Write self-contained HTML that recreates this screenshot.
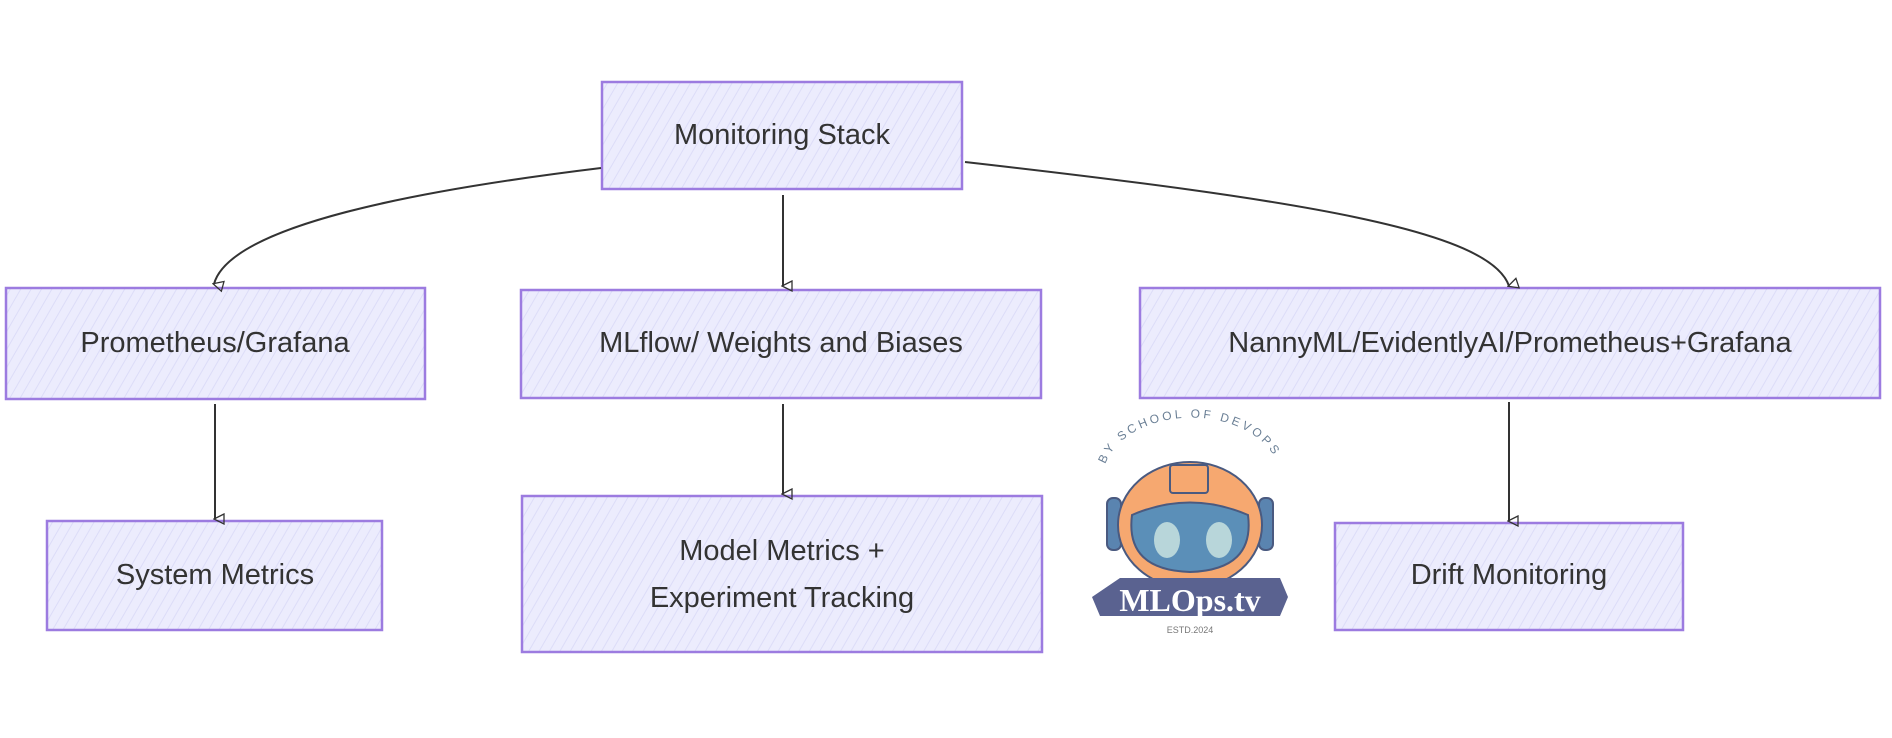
<!DOCTYPE html>
<html><head><meta charset="utf-8"><style>
html,body{margin:0;padding:0;background:#fff;}
svg{display:block}
text{font-family:"Liberation Sans",sans-serif;fill:#333;}
</style></head><body>
<svg width="1892" height="738" viewBox="0 0 1892 738" xmlns="http://www.w3.org/2000/svg">
<defs>
<pattern id="h" width="9" height="9" patternUnits="userSpaceOnUse" patternTransform="rotate(30)">
<rect width="9" height="9" fill="#ececfd"/>
<line x1="0" y1="0" x2="0" y2="9" stroke="#dcdcf8" stroke-width="2"/>
</pattern>
<marker id="a" markerWidth="12" markerHeight="12" refX="6" refY="10" orient="auto" markerUnits="userSpaceOnUse">
<path d="M1,1 L6,11 L11,1 Z" fill="none" stroke="#333" stroke-width="1.3"/>
</marker>
</defs>
<g fill="url(#h)" stroke="#9c7be0" stroke-width="2.5">
<rect x="602" y="82" width="360" height="107"/>
<rect x="6" y="288" width="419" height="111"/>
<rect x="521" y="290" width="520" height="108"/>
<rect x="1140" y="288" width="740" height="110"/>
<rect x="47" y="521" width="335" height="109"/>
<rect x="522" y="496" width="520" height="156"/>
<rect x="1335" y="523" width="348" height="107"/>
</g>
<g fill="none" stroke="#333" stroke-width="2">
<path d="M601,168 C420,190 230,225 214,284" marker-end="url(#a)"/>
<path d="M783,195 L783,286" marker-end="url(#a)"/>
<path d="M965,162 C1300,200 1490,230 1509,286" marker-end="url(#a)"/>
<path d="M215,404 L215,519" marker-end="url(#a)"/>
<path d="M783,404 L783,494" marker-end="url(#a)"/>
<path d="M1509,402 L1509,521" marker-end="url(#a)"/>
</g>
<g font-size="29" text-anchor="middle">
<text x="782" y="144">Monitoring Stack</text>
<text x="215" y="352">Prometheus/Grafana</text>
<text x="781" y="352">MLflow/ Weights and Biases</text>
<text x="1510" y="352">NannyML/EvidentlyAI/Prometheus+Grafana</text>
<text x="215" y="584">System Metrics</text>
<text x="782" y="560">Model Metrics +</text>
<text x="782" y="607">Experiment Tracking</text>
<text x="1509" y="584">Drift Monitoring</text>
</g>
<g>
<path id="arc" d="M1103,478 A88,60 0 0 1 1280,478" fill="none"/>
<text font-size="12" letter-spacing="3" style="fill:#6a7f95"><textPath href="#arc" startOffset="6%">BY SCHOOL OF DEVOPS</textPath></text>
<rect x="1107" y="498" width="14" height="52" rx="6" fill="#5a84b0" stroke="#4a5a80" stroke-width="2"/>
<rect x="1259" y="498" width="14" height="52" rx="6" fill="#5a84b0" stroke="#4a5a80" stroke-width="2"/>
<ellipse cx="1190" cy="525" rx="72" ry="63" fill="#f6a870" stroke="#4a5a80" stroke-width="2"/>
<rect x="1170" y="465" width="38" height="28" rx="3" fill="#f6a870" stroke="#4a5a80" stroke-width="2"/>
<path d="M1132,515 Q1190,490 1248,515 Q1255,570 1190,572 Q1125,570 1132,515 Z" fill="#5b8fb8" stroke="#4a5a80" stroke-width="2"/>
<ellipse cx="1167" cy="540" rx="13" ry="18" fill="#b8d6da"/>
<ellipse cx="1219" cy="540" rx="13" ry="18" fill="#b8d6da"/>
<path d="M1120,578 L1280,578 L1288,597 L1280,616 L1100,616 L1092,597 Z" fill="#5a6290"/>
<text x="1190" y="611" font-size="32" font-weight="bold" text-anchor="middle" style="fill:#fff;font-family:'Liberation Serif',serif">MLOps.tv</text>
<text x="1190" y="633" font-size="9" text-anchor="middle" style="fill:#777">ESTD.2024</text>
</g>
</svg>
</body></html>
